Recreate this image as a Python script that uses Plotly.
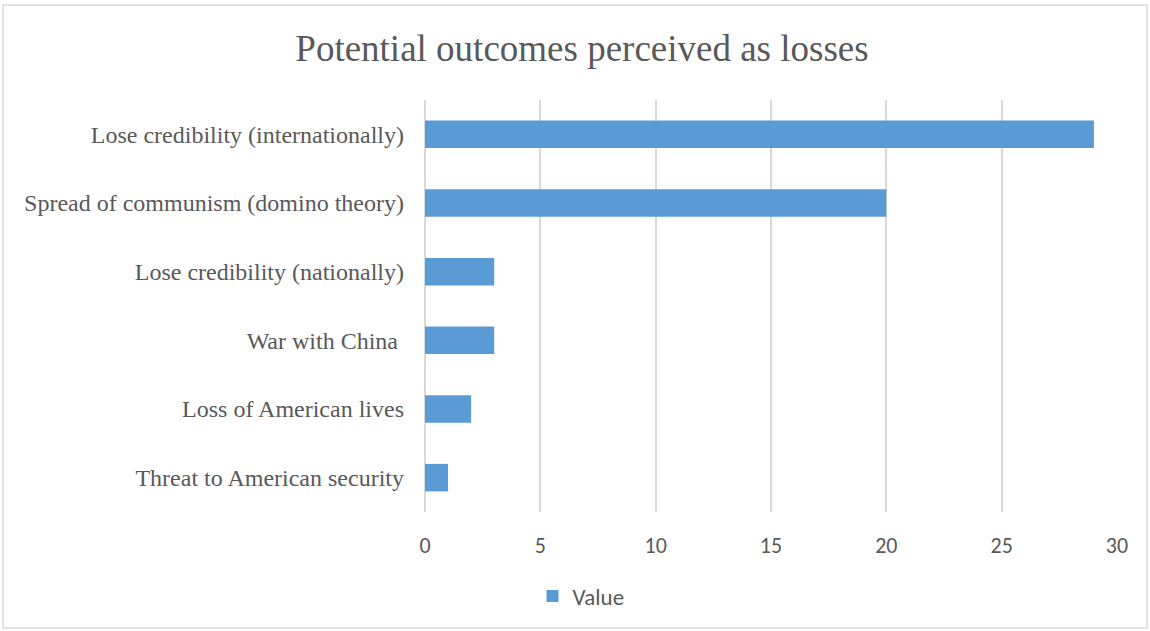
import plotly.graph_objects as go

# Categories listed top-to-bottom and their counts
categories = [
    "Lose credibility (internationally)",
    "Spread of communism (domino theory)",
    "Lose credibility (nationally)",
    "War with China ",
    "Loss of American lives",
    "Threat to American security",
]
values = [29, 20, 3, 3, 2, 1]
x_ticks = [0, 5, 10, 15, 20, 25, 30]

BAR_COLOR = "#5b9bd5"
GRID = "#d9d9d9"
SERIF = "Liberation Serif, Times New Roman, serif"
SANS = "Carlito, Calibri, Open Sans, sans-serif"

# plot area in pixels (for placing the outer frame)
L, R, T, B = 425, 33, 100, 119
W, H = 1150, 631
pw, ph = W - L - R, H - T - B

fig = go.Figure(
    go.Bar(
        x=values,
        y=categories,
        orientation="h",
        name="Value",
        marker=dict(color=BAR_COLOR, line=dict(width=0)),
        showlegend=True,
    )
)

fig.update_layout(
    width=W,
    height=H,
    margin=dict(l=L, r=R, t=T, b=B),
    paper_bgcolor="white",
    plot_bgcolor="white",
    bargap=0.6,
    title=dict(
        text="Potential outcomes perceived as losses",
        font=dict(family=SERIF, size=37, color="#595959"),
        x=582 / W,
        xref="container",
        xanchor="center",
        y=1 - 48 / H,
        yanchor="middle",
    ),
    xaxis=dict(
        range=[0, 30],
        tickvals=x_ticks,
        showgrid=True,
        gridcolor=GRID,
        gridwidth=1.5,
        zeroline=True,
        zerolinecolor=GRID,
        zerolinewidth=1.5,
        showline=False,
        ticks="",
        tickfont=dict(family=SANS, size=22, color="#595959"),
        ticklabelstandoff=18,
    ),
    yaxis=dict(
        autorange="reversed",
        showgrid=False,
        showline=False,
        ticks="",
        tickfont=dict(family=SERIF, size=24, color="#595959"),
        ticklabelstandoff=20,
    ),
    legend=dict(
        orientation="h",
        x=(581 - L) / pw,
        xanchor="center",
        y=(H - B - 596) / ph,
        yanchor="middle",
        font=dict(family=SANS, size=23, color="#595959"),
        itemwidth=30,
    ),
    shapes=[
        dict(
            type="rect",
            xref="paper",
            yref="paper",
            x0=(3 - L) / pw,
            x1=(1147 - L) / pw,
            y0=(H - B - 628) / ph,
            y1=(H - B - 5) / ph,
            line=dict(color="#d9d9d9", width=1.5),
            fillcolor="rgba(0,0,0,0)",
            layer="below",
        )
    ],
)

fig.write_html("out.html")
